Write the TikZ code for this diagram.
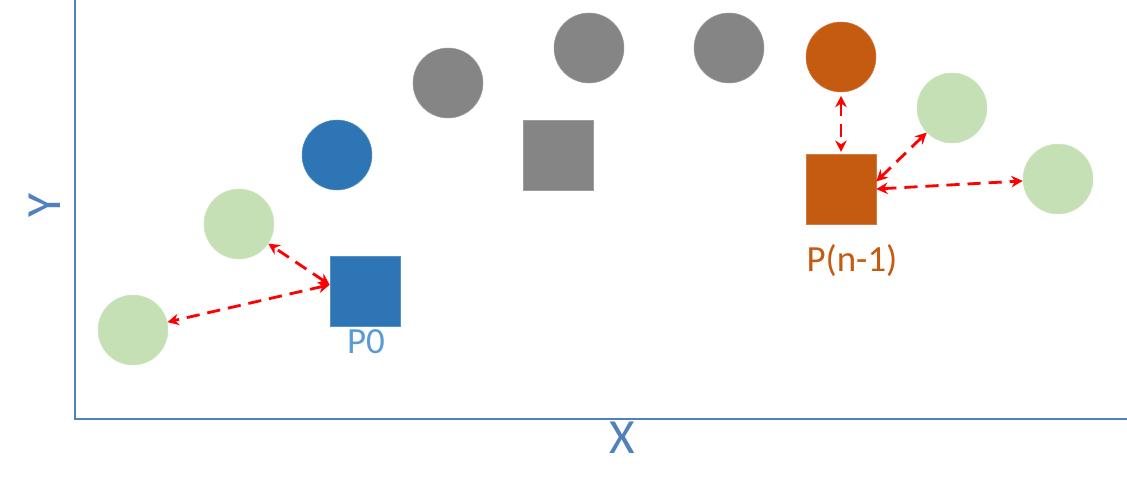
\documentclass[tikz,border=0pt]{standalone}
\usepackage{fontspec}
\setmainfont{Carlito}
\usetikzlibrary{arrows.meta}
\definecolor{axisblue}{HTML}{4F81BD}
\definecolor{ptgreen}{HTML}{C5E0B4}
\definecolor{ptblue}{HTML}{2E75B6}
\definecolor{ptgray}{HTML}{858585}
\definecolor{ptorange}{HTML}{C55A11}
\definecolor{lblblue}{HTML}{5B9BD5}
\tikzset{
  pt/.style={circle,minimum size=1.4cm,inner sep=0pt,draw=#1!80!white,line width=0.3pt,fill=#1},
  ctr/.style={rectangle,minimum size=1.4cm,inner sep=0pt,draw=#1!80!white,line width=0.3pt,fill=#1},
  link/.style={<->,red,line width=1.6pt,dash pattern=on 7.5pt off 4.5pt},
}
\begin{document}
\begin{tikzpicture}[x=0.02cm,y=-0.02cm,>={Stealth[length=6.5pt,width=6.5pt]}]
  \useasboundingbox (0,0) rectangle (1127,493);
  % axes
  \coordinate (ytop) at (75,0);
  \coordinate (O) at (75,419);
  \coordinate (xend) at (1127,419);
  \draw[axisblue,line width=1.7pt] (ytop) -- (O) -- (xend);
  \node[text=axisblue,font=\fontsize{28}{30}\selectfont,inner sep=0pt,rotate=90] (Ylbl) at (45,206) {Y};
  \node[text=axisblue,font=\fontsize{28}{30}\selectfont,inner sep=0pt,anchor=base] (Xlbl) at (622,454) {X};
  % points
  \node[pt=ptgreen] (g1) at (133,330) {};
  \node[pt=ptgreen] (g2) at (239,224) {};
  \node[pt=ptblue] (b1) at (337,155) {};
  \node[pt=ptgray] (k1) at (448,83) {};
  \node[pt=ptgray] (k2) at (589,48) {};
  \node[pt=ptgray] (k3) at (729,48) {};
  \node[pt=ptorange] (o1) at (841,57) {};
  \node[pt=ptgreen] (g3) at (952,108) {};
  \node[pt=ptgreen] (g4) at (1058,179) {};
  % centers
  \node[ctr=ptblue] (sqA) at (365,291) {};
  \node[ctr=ptgray] (sqM) at (558,155) {};
  \node[ctr=ptorange] (sqB) at (841,189) {};
  \node[text=lblblue,font=\fontsize{21}{24}\selectfont,inner sep=0pt,anchor=base] (P0) at (366,354) {P0};
  \node[text=ptorange,font=\fontsize{21}{24}\selectfont,inner sep=0pt,anchor=base] (Pn) at (852,272) {P(n-1)};
  % distances
  \draw[link] (sqA.170) -- (g1);
  \draw[link] (sqA.170) -- (g2);
  \draw[link,shorten <=2pt,shorten >=1pt] (o1) -- (sqB);
  \draw[link] (sqB.12) -- (g3);
  \draw[link] (sqB.east) -- (g4);
\end{tikzpicture}
\end{document}
